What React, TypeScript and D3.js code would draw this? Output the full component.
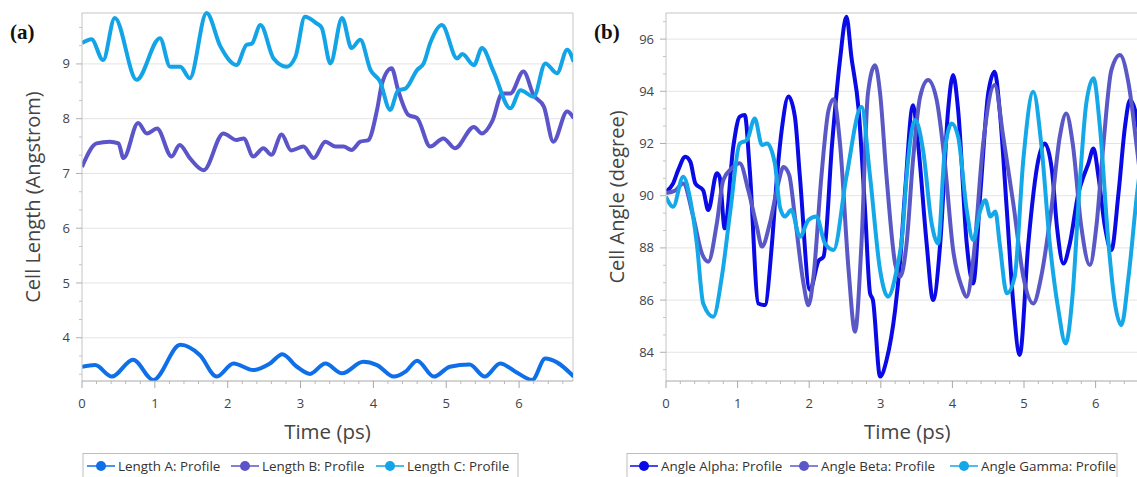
import React from 'react';
import * as d3 from 'd3';

// ---- panel (a): cell lengths ----
const lengthATime = [0, 0.18, 0.41, 0.7, 0.98, 1.35, 1.62, 1.85, 2.08, 2.35, 2.58, 2.75, 2.95, 3.13, 3.34, 3.57, 3.86, 4.05, 4.28, 4.44, 4.6, 4.83, 5.05, 5.32, 5.53, 5.74, 5.95, 6.18, 6.36, 6.52, 6.75];
const lengthAValues = [3.47, 3.5, 3.29, 3.6, 3.23, 3.87, 3.68, 3.29, 3.53, 3.41, 3.53, 3.7, 3.47, 3.34, 3.53, 3.35, 3.56, 3.5, 3.29, 3.38, 3.58, 3.29, 3.47, 3.51, 3.29, 3.53, 3.38, 3.23, 3.62, 3.55, 3.29];

const lengthBTime = [0, 0.2, 0.38, 0.5, 0.57, 0.77, 0.89, 1.03, 1.23, 1.34, 1.48, 1.67, 1.94, 2.12, 2.22, 2.35, 2.49, 2.6, 2.74, 2.87, 3.04, 3.18, 3.34, 3.48, 3.59, 3.7, 3.82, 3.93, 4.05, 4.12, 4.25, 4.34, 4.48, 4.6, 4.78, 4.96, 5.12, 5.38, 5.49, 5.63, 5.77, 5.88, 6.06, 6.2, 6.34, 6.47, 6.66, 6.75];
const lengthBValues = [7.12, 7.55, 7.58, 7.55, 7.28, 7.92, 7.73, 7.82, 7.31, 7.52, 7.28, 7.06, 7.73, 7.61, 7.64, 7.31, 7.46, 7.34, 7.71, 7.42, 7.49, 7.28, 7.58, 7.49, 7.49, 7.43, 7.58, 7.61, 8.16, 8.65, 8.92, 8.52, 8.07, 8.01, 7.49, 7.64, 7.46, 7.85, 7.73, 7.95, 8.46, 8.46, 8.86, 8.43, 8.22, 7.58, 8.13, 8.01];

const lengthCTime = [0, 0.13, 0.29, 0.45, 0.75, 1.07, 1.21, 1.35, 1.48, 1.71, 1.9, 2.12, 2.26, 2.33, 2.45, 2.63, 2.81, 2.93, 3.06, 3.22, 3.29, 3.41, 3.57, 3.7, 3.82, 3.96, 4.09, 4.23, 4.34, 4.44, 4.6, 4.69, 4.78, 4.94, 5.15, 5.22, 5.38, 5.49, 5.65, 5.88, 6.02, 6.2, 6.36, 6.52, 6.66, 6.75];
const lengthCValues = [9.38, 9.45, 9.07, 9.84, 8.71, 9.47, 8.95, 8.95, 8.74, 9.93, 9.32, 8.98, 9.35, 9.37, 9.71, 9.1, 8.95, 9.13, 9.86, 9.74, 9.66, 9.01, 9.84, 9.29, 9.44, 8.89, 8.68, 8.16, 8.52, 8.55, 8.89, 9.01, 9.38, 9.71, 9.1, 9.18, 8.98, 9.29, 8.86, 8.19, 8.52, 8.4, 9.01, 8.83, 9.26, 9.04];

// ---- panel (b): cell angles ----
const alphaTime = [0, 0.1, 0.17, 0.27, 0.34, 0.41, 0.52, 0.59, 0.71, 0.75, 0.82, 0.94, 1.03, 1.1, 1.17, 1.29, 1.38, 1.48, 1.55, 1.62, 1.71, 1.8, 1.87, 2.01, 2.13, 2.2, 2.32, 2.43, 2.52, 2.59, 2.69, 2.78, 2.85, 2.89, 2.99, 3.08, 3.2, 3.27, 3.34, 3.45, 3.52, 3.64, 3.73, 3.83, 3.94, 4.01, 4.08, 4.2, 4.29, 4.39, 4.5, 4.59, 4.66, 4.76, 4.85, 4.94, 5.06, 5.2, 5.29, 5.39, 5.46, 5.55, 5.64, 5.76, 5.83, 5.9, 5.97, 6.04, 6.13, 6.22, 6.32, 6.41, 6.48, 6.55, 6.62, 6.7];
const alphaValues = [90.15, 90.47, 90.98, 91.49, 91.3, 90.47, 90.2, 89.45, 90.86, 90.7, 88.75, 91.88, 93.03, 93.09, 90.98, 85.87, 85.81, 88.17, 90.73, 92.6, 93.8, 93.03, 90.73, 86.39, 87.5, 87.66, 92.0, 95.2, 96.86, 95.3, 93.3, 89.45, 86.26, 86.0, 83.07, 83.7, 85.62, 87.5, 90.2, 93.47, 92.0, 88.17, 86.0, 88.17, 93.28, 94.62, 93.28, 88.17, 86.64, 90.1, 93.92, 94.75, 93.28, 89.45, 85.87, 83.9, 88.17, 91.37, 92.0, 90.98, 88.81, 87.4, 88.17, 90.1, 90.73, 91.24, 91.81, 90.73, 88.81, 87.92, 90.1, 92.64, 93.67, 93.28, 92.2, 91.0];

const betaTime = [0, 0.13, 0.24, 0.38, 0.5, 0.59, 0.71, 0.8, 0.92, 1.03, 1.15, 1.27, 1.34, 1.45, 1.57, 1.64, 1.72, 1.8, 1.92, 1.99, 2.06, 2.17, 2.27, 2.34, 2.43, 2.55, 2.64, 2.73, 2.82, 2.92, 2.99, 3.08, 3.2, 3.27, 3.36, 3.45, 3.55, 3.66, 3.78, 3.89, 4.01, 4.13, 4.2, 4.29, 4.43, 4.59, 4.71, 4.85, 4.99, 5.13, 5.24, 5.38, 5.5, 5.59, 5.68, 5.8, 5.92, 6.01, 6.11, 6.22, 6.34, 6.46, 6.58, 6.7];
const betaValues = [90.1, 90.2, 90.47, 89.2, 87.8, 87.47, 88.94, 90.6, 91.05, 91.24, 90.2, 88.8, 88.05, 88.94, 90.5, 91.1, 90.8, 89.2, 86.64, 85.8, 86.9, 90.73, 93.28, 93.7, 92.0, 87.15, 84.79, 88.17, 93.92, 95.0, 93.92, 90.73, 87.4, 86.9, 88.17, 91.37, 93.8, 94.43, 93.67, 91.37, 87.92, 86.51, 86.13, 87.53, 92.0, 94.24, 92.26, 89.71, 86.9, 85.87, 86.9, 89.45, 92.26, 93.15, 92.0, 88.81, 87.34, 88.81, 92.0, 94.81, 95.39, 94.3, 91.75, 89.0];

const gammaTime = [0, 0.1, 0.24, 0.34, 0.43, 0.52, 0.66, 0.78, 0.9, 1.03, 1.13, 1.24, 1.34, 1.41, 1.52, 1.59, 1.66, 1.75, 1.87, 1.99, 2.1, 2.22, 2.34, 2.52, 2.73, 2.85, 2.99, 3.1, 3.22, 3.3, 3.36, 3.48, 3.59, 3.71, 3.8, 3.89, 3.99, 4.08, 4.2, 4.29, 4.39, 4.46, 4.53, 4.6, 4.66, 4.76, 4.87, 4.99, 5.13, 5.24, 5.36, 5.48, 5.58, 5.68, 5.77, 5.87, 5.97, 6.06, 6.18, 6.27, 6.36, 6.46, 6.58, 6.7];
const gammaValues = [89.96, 89.58, 90.73, 89.83, 88.17, 85.87, 85.36, 86.9, 89.45, 92.0, 92.13, 92.96, 91.94, 92.0, 91.24, 89.58, 89.2, 89.45, 88.43, 89.07, 89.2, 88.17, 87.92, 90.73, 93.4, 90.73, 87.15, 86.13, 87.15, 88.5, 90.73, 92.9, 91.75, 88.94, 88.17, 91.62, 92.77, 92.26, 89.45, 88.3, 89.45, 89.83, 89.2, 89.39, 88.17, 86.26, 86.9, 91.37, 93.98, 92.0, 88.17, 85.62, 84.34, 86.26, 90.1, 93.54, 94.5, 92.64, 88.17, 85.87, 85.04, 86.9, 90.1, 92.5];

const timeTicks = [0, 1, 2, 3, 4, 5, 6];
const lengthTicks = [4, 5, 6, 7, 8, 9];
const angleTicks = [84, 86, 88, 90, 92, 94, 96];

const lengthNames = ['Length A: Profile', 'Length B: Profile', 'Length C: Profile'];
const angleNames = ['Angle Alpha: Profile', 'Angle Beta: Profile', 'Angle Gamma: Profile'];
const lengthColors = ['#0f6fe8', '#5b55c9', '#12a4e6'];
const angleColors = ['#0a0ae6', '#5a58c6', '#14a8e8'];

const FONT = "'Open Sans', 'DejaVu Sans', sans-serif";

type Series = { name: string; color: string; t: number[]; v: number[] };

interface PanelProps {
  left: number;
  right: number;
  top: number;
  bottom: number;
  yDomain: [number, number];
  yTicks: number[];
  yTitle: string;
  tag: string;
  series: Series[];
  legendLeft: number;
  legendWidth: number;
  legendSlots: number[];
  showRightBorder: boolean;
  clipId: string;
}

function Panel(p: PanelProps) {
  const x = d3.scaleLinear().domain([0, 6.74]).range([p.left, p.right]);
  const y = d3.scaleLinear().domain(p.yDomain).range([p.bottom, p.top]);
  const line = d3
    .line<[number, number]>()
    .x((d) => x(d[0]))
    .y((d) => y(d[1]))
    .curve(d3.curveMonotoneX);

  const xMinor = d3.range(0, 6.74, 0.2).filter((t) => Math.abs(t - Math.round(t)) > 0.01);
  const step = p.yTicks[1] - p.yTicks[0];
  const yMinor: number[] = [];
  for (let v = p.yTicks[0] - step; v <= p.yDomain[1]; v += step / 3) {
    const isMajor = Math.abs((v - p.yTicks[0]) / step - Math.round((v - p.yTicks[0]) / step)) < 0.01;
    if (!isMajor && v >= p.yDomain[0] && v <= p.yDomain[1]) yMinor.push(v);
  }

  const midX = (p.left + p.right) / 2;
  const midY = (p.top + p.bottom) / 2;

  return (
    <g>
      <defs>
        <clipPath id={p.clipId}>
          <rect x={p.left} y={p.top - 2} width={p.right - p.left} height={p.bottom - p.top + 2} />
        </clipPath>
      </defs>
      {p.yTicks.map((v) => (
        <line key={'g' + v} x1={p.left} x2={p.right} y1={y(v)} y2={y(v)} stroke="#e4e4e4" strokeWidth={1} />
      ))}
      <line x1={p.left} x2={p.right} y1={p.top} y2={p.top} stroke="#d8d8d8" strokeWidth={1.5} />
      {p.showRightBorder && (
        <line x1={p.right} x2={p.right} y1={p.top} y2={p.bottom} stroke="#d8d8d8" strokeWidth={1.5} />
      )}
      <g clipPath={`url(#${p.clipId})`}>
        {p.series.map((s) => (
          <path
            key={s.name}
            d={line(s.t.map((t, i) => [t, s.v[i]] as [number, number])) || ''}
            fill="none"
            stroke={s.color}
            strokeWidth={4}
            strokeLinejoin="round"
          />
        ))}
      </g>
      {/* y axis */}
      <line x1={p.left} x2={p.left} y1={p.top} y2={p.bottom} stroke="#c4c4c4" strokeWidth={1} />
      {p.yTicks.map((v) => (
        <g key={'y' + v}>
          <line x1={p.left - 6} x2={p.left} y1={y(v)} y2={y(v)} stroke="#b0b0b0" />
          <text x={p.left - 12} y={y(v)} dy="0.35em" textAnchor="end" fontSize={13} fill="#444" fontFamily={FONT}>
            {v}
          </text>
        </g>
      ))}
      {yMinor.map((v, i) => (
        <line key={'ym' + i} x1={p.left - 3} x2={p.left} y1={y(v)} y2={y(v)} stroke="#c4c4c4" />
      ))}
      {/* x axis */}
      <line x1={p.left} x2={p.right} y1={p.bottom} y2={p.bottom} stroke="#a8a8a8" strokeWidth={1} />
      {timeTicks.map((t) => (
        <g key={'x' + t}>
          <line x1={x(t)} x2={x(t)} y1={p.bottom} y2={p.bottom + 7} stroke="#a8a8a8" />
          <text x={x(t)} y={p.bottom + 27} textAnchor="middle" fontSize={13} fill="#444" fontFamily={FONT}>
            {t}
          </text>
        </g>
      ))}
      {xMinor.map((t, i) => (
        <line key={'xm' + i} x1={x(t)} x2={x(t)} y1={p.bottom} y2={p.bottom + 3} stroke="#b8b8b8" />
      ))}
      <text x={midX} y={p.bottom + 58} textAnchor="middle" fontSize={20.5} fill="#444" fontFamily={FONT}>
        Time (ps)
      </text>
      <text
        transform={`translate(${p.left - 42},${midY}) rotate(-90)`}
        textAnchor="middle"
        fontSize={20}
        fill="#444"
        fontFamily={FONT}
      >
        {p.yTitle}
      </text>
      <text
        x={p.left - 72}
        y={39}
        fontSize={21}
        fontWeight="bold"
        fill="#111"
        fontFamily="'Liberation Serif', 'DejaVu Serif', serif"
      >
        {p.tag}
      </text>
      {/* legend */}
      <rect
        x={p.legendLeft}
        y={453.5}
        width={p.legendWidth}
        height={30}
        fill="#fff"
        stroke="#bdbdbd"
        strokeWidth={1}
      />
      {p.series.map((s, i) => (
        <g key={'l' + s.name} transform={`translate(${p.legendSlots[i]},466)`}>
          <line x1={0} x2={28} y1={0} y2={0} stroke={s.color} strokeWidth={1.5} />
          <circle cx={14} cy={0} r={5} fill={s.color} />
          <text x={31} y={0} dy="0.35em" fontSize={13.4} fill="#333" fontFamily={FONT}>
            {s.name}
          </text>
        </g>
      ))}
    </g>
  );
}

export default function App() {
  const lengthSeries: Series[] = [
    { name: lengthNames[0], color: lengthColors[0], t: lengthATime, v: lengthAValues },
    { name: lengthNames[1], color: lengthColors[1], t: lengthBTime, v: lengthBValues },
    { name: lengthNames[2], color: lengthColors[2], t: lengthCTime, v: lengthCValues },
  ];
  const angleSeries: Series[] = [
    { name: angleNames[0], color: angleColors[0], t: alphaTime, v: alphaValues },
    { name: angleNames[1], color: angleColors[1], t: betaTime, v: betaValues },
    { name: angleNames[2], color: angleColors[2], t: gammaTime, v: gammaValues },
  ];
  return (
    <svg
      width={1137}
      height={477}
      style={{ position: 'absolute', left: 0, top: 0, background: '#fff', display: 'block' }}
    >
      <Panel
        left={82}
        right={573}
        top={13}
        bottom={381}
        yDomain={[3.21, 9.93]}
        yTicks={lengthTicks}
        yTitle="Cell Length (Angstrom)"
        tag="(a)"
        series={lengthSeries}
        legendLeft={83}
        legendWidth={435}
        legendSlots={[87, 231, 376]}
        showRightBorder={true}
        clipId="clipA"
      />
      <Panel
        left={666}
        right={1148.6}
        top={13}
        bottom={381}
        yDomain={[82.9, 97.0]}
        yTicks={angleTicks}
        yTitle="Cell Angle (degree)"
        tag="(b)"
        series={angleSeries}
        legendLeft={627}
        legendWidth={490}
        legendSlots={[630, 790, 950]}
        showRightBorder={false}
        clipId="clipB"
      />
    </svg>
  );
}
